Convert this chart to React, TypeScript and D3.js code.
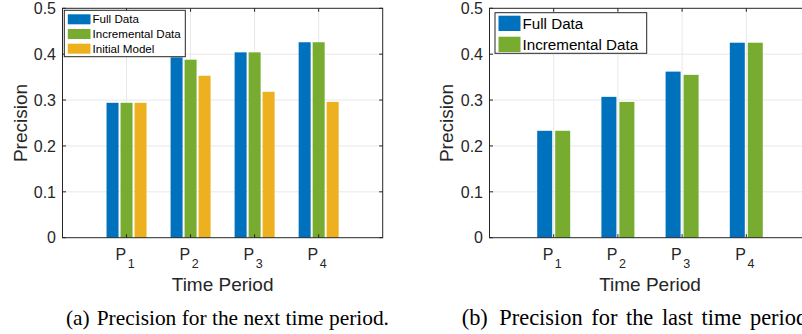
import React from "react";
import * as d3 from "d3";

const periods = ["1", "2", "3", "4"];
const yTicks = [0, 0.1, 0.2, 0.3, 0.4, 0.5];

const seriesA = ["Full Data", "Incremental Data", "Initial Model"];
const fullA = [0.294, 0.393, 0.404, 0.426];
const incA = [0.294, 0.388, 0.404, 0.426];
const initA = [0.294, 0.353, 0.318, 0.296];

const seriesB = ["Full Data", "Incremental Data"];
const fullB = [0.233, 0.307, 0.362, 0.425];
const incB = [0.233, 0.296, 0.355, 0.425];

const colors = ["#0072BD", "#77AC30", "#EDB120"];
const AX = "#262626";
const GRID = "#e8e8e8";
const SANS = "'Liberation Sans', Arial, Helvetica, sans-serif";
const SERIF = "'Liberation Serif', 'Times New Roman', serif";

type PanelProps = {
  x0: number;
  x1: number;
  data: number[][];
  names: string[];
  barW: number;
  barStep: number;
  legend: { x: number; y: number; w: number; h: number; sw: number; sh: number; step: number; fs: number; pad: number };
  ylabelX: number;
};

function Panel({ x0, x1, data, names, barW, barStep, legend, ylabelX }: PanelProps) {
  const yTop = 8.3;
  const yBot = 237.7;
  const x = d3.scaleLinear().domain([0, 5]).range([x0, x1]);
  const y = d3.scaleLinear().domain([0, 0.5]).range([yBot, yTop]);
  const n = data.length;
  const tl = 3.5;
  return (
    <g>
      {yTicks.slice(1, -1).map((t) => (
        <line key={"gy" + t} x1={x0} x2={x1} y1={y(t)} y2={y(t)} stroke={GRID} strokeWidth={1} />
      ))}
      {periods.map((p, i) => (
        <line key={"gx" + p} x1={x(i + 1)} x2={x(i + 1)} y1={yTop} y2={yBot} stroke={GRID} strokeWidth={1} />
      ))}
      {data.map((s, si) =>
        s.map((v, i) => {
          const cx = x(i + 1) + (si - (n - 1) / 2) * barStep;
          return (
            <rect key={si + "-" + i} x={cx - barW / 2} y={y(v)} width={barW} height={yBot - y(v)} fill={colors[si]} />
          );
        })
      )}
      <rect x={x0} y={yTop} width={x1 - x0} height={yBot - yTop} fill="none" stroke={AX} strokeWidth={1} />
      {yTicks.map((t) => (
        <g key={"yt" + t}>
          <line x1={x0} x2={x0 + tl} y1={y(t)} y2={y(t)} stroke={AX} />
          <line x1={x1} x2={x1 - tl} y1={y(t)} y2={y(t)} stroke={AX} />
          <text x={x0 - 6.5} y={y(t)} dy="0.36em" textAnchor="end" fontSize={16} fill={AX} fontFamily={SANS}>
            {t === 0 ? "0" : t.toFixed(1)}
          </text>
        </g>
      ))}
      {periods.map((p, i) => (
        <g key={"xt" + p}>
          <line x1={x(i + 1)} x2={x(i + 1)} y1={yBot} y2={yBot - tl} stroke={AX} />
          <line x1={x(i + 1)} x2={x(i + 1)} y1={yTop} y2={yTop + tl} stroke={AX} />
          <text x={x(i + 1) - 1.5} y={260} textAnchor="middle" fontSize={16} fill={AX} fontFamily={SANS}>
            P
            <tspan dx={1.5} dy={8.3} fontSize={12.5}>
              {p}
            </tspan>
          </text>
        </g>
      ))}
      <text x={(x0 + x1) / 2} y={290.5} textAnchor="middle" fontSize={19} fill={AX} fontFamily={SANS}>
        Time Period
      </text>
      <text
        transform={`translate(${ylabelX},${(yTop + yBot) / 2}) rotate(-90)`}
        textAnchor="middle"
        fontSize={19}
        fill={AX}
        fontFamily={SANS}
      >
        Precision
      </text>
      <rect x={legend.x} y={legend.y} width={legend.w} height={legend.h} fill="#fff" stroke={AX} strokeWidth={1} />
      {names.map((nm, si) => {
        const sy = legend.y + legend.pad + si * legend.step;
        return (
          <g key={"lg" + nm}>
            <rect x={legend.x + 3.5} y={sy} width={legend.sw} height={legend.sh} fill={colors[si]} />
            <text
              x={legend.x + 3.5 + legend.sw + 2}
              y={sy + legend.sh / 2}
              dy="0.36em"
              fontSize={legend.fs}
              fill="#000"
              fontFamily={SANS}
            >
              {nm}
            </text>
          </g>
        );
      })}
    </g>
  );
}

export default function App() {
  return (
    <svg
      width={802}
      height={334}
      style={{ position: "absolute", left: 0, top: 0, background: "#fff" }}
    >
      <Panel
        x0={62.5}
        x1={382.7}
        data={[fullA, incA, initA]}
        names={seriesA}
        barW={12}
        barStep={14}
        legend={{ x: 64.3, y: 10.3, w: 121, h: 46.4, sw: 22.7, sh: 10, step: 14.7, fs: 11.6, pad: 4 }}
        ylabelX={26.7}
      />
      <Panel
        x0={489.5}
        x1={810.5}
        data={[fullB, incB]}
        names={seriesB}
        barW={15}
        barStep={18}
        legend={{ x: 495, y: 12.7, w: 151.7, h: 40.6, sw: 22, sh: 15.3, step: 21, fs: 15.2, pad: 3 }}
        ylabelX={453.3}
      />
      <text x={66} y={324.5} fontSize={21.4} fill="#000" fontFamily={SERIF}>
        (a)
      </text>
      <text x={96.7} y={324.5} fontSize={21.4} fill="#000" fontFamily={SERIF}>
        Precision for the next time period.
      </text>
      <text x={461.7} y={324.5} fontSize={22.4} fill="#000" fontFamily={SERIF}>
        (b)
      </text>
      <text x={499.3} y={324.5} fontSize={22.4} wordSpacing={3} fill="#000" fontFamily={SERIF}>
        Precision for the last time period.
      </text>
    </svg>
  );
}
